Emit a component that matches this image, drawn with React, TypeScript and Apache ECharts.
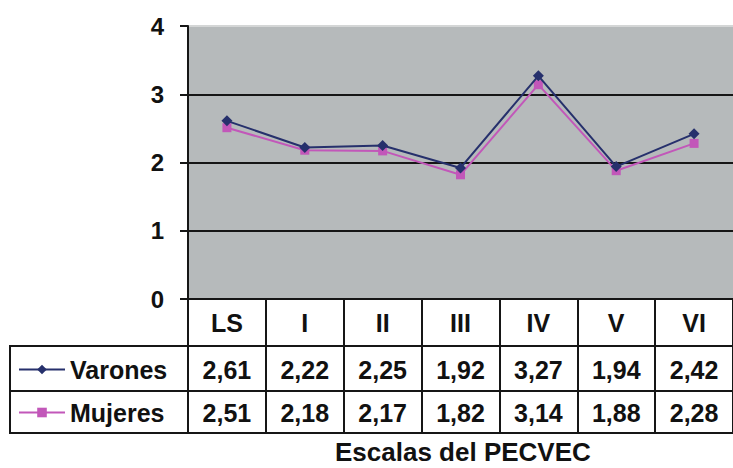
import React, { useEffect, useRef } from "react";
import * as echarts from "echarts";

const categories = ["LS", "I", "II", "III", "IV", "V", "VI"];
const varones = [2.61, 2.22, 2.25, 1.92, 3.27, 1.94, 2.42];
const mujeres = [2.51, 2.18, 2.17, 1.82, 3.14, 1.88, 2.28];
const yTicks = [0, 1, 2, 3, 4];
const axisTitle = "Escalas del PECVEC";

const FONT = "'Liberation Sans', Arial, Helvetica, sans-serif";
const fmt = (v: number) => v.toFixed(2).replace(".", ",");

export default function App() {
  const ref = useRef<HTMLDivElement>(null);
  useEffect(() => {
    if (!ref.current) return;
    const chart = echarts.init(ref.current, null, { renderer: "svg" });
    const gridLeft = 188;
    const gridTop = 26;
    const gridBottomY = 299;
    const row1 = 346;
    const row2 = 391;
    const row3 = 433;
    const tableLeft = 10;
    const lineColor = "#161616";
    const labelStyle = { fontFamily: FONT, fontWeight: "bold" as const, fontSize: 25, color: "#111" };
    chart.setOption({
      animation: false,
      backgroundColor: "#ffffff",
      title: {
        text: axisTitle,
        left: 335,
        top: 439,
        padding: 0,
        textStyle: { fontFamily: FONT, fontWeight: "bold", fontSize: 26, color: "#111" },
      },
      legend: {
        orient: "vertical",
        left: 18,
        top: 357,
        padding: 0,
        itemWidth: 46,
        itemHeight: 12,
        itemGap: 18,
        textStyle: { fontFamily: FONT, fontWeight: "bold", fontSize: 25, color: "#111" },
        data: ["Varones", "Mujeres"],
      },
      grid: {
        left: gridLeft,
        top: gridTop,
        width: 549,
        height: gridBottomY - gridTop,
        show: true,
        backgroundColor: "#b6babb",
        borderWidth: 0,
      },
      yAxis: {
        type: "value",
        min: yTicks[0],
        max: yTicks[yTicks.length - 1],
        interval: 1,
        axisLine: { show: true, lineStyle: { color: lineColor, width: 2 } },
        axisTick: { show: true, length: 8, lineStyle: { color: lineColor, width: 2 } },
        axisLabel: { ...labelStyle, fontSize: 24, margin: 24 },
        splitLine: {
          show: true,
          lineStyle: { color: [lineColor, lineColor, lineColor, lineColor, "#d4d6d6"], width: 2 },
        },
      },
      xAxis: [
        {
          type: "category",
          data: categories,
          position: "bottom",
          boundaryGap: true,
          axisLine: { show: true, lineStyle: { color: lineColor, width: 2 } },
          axisTick: { show: true, interval: 0, length: row3 - gridBottomY, lineStyle: { color: lineColor, width: 2 } },
          axisLabel: { ...labelStyle, margin: 11, interval: 0 },
        },
        {
          type: "category",
          data: varones.map(fmt),
          position: "bottom",
          offset: row1 - gridBottomY,
          axisLine: { show: true, lineStyle: { color: lineColor, width: 2 } },
          axisTick: { show: false },
          axisLabel: { ...labelStyle, margin: 11, interval: 0 },
        },
        {
          type: "category",
          data: mujeres.map(fmt),
          position: "bottom",
          offset: row2 - gridBottomY,
          axisLine: { show: true, lineStyle: { color: lineColor, width: 2 } },
          axisTick: { show: false },
          axisLabel: { ...labelStyle, margin: 9, interval: 0 },
        },
        {
          type: "category",
          data: categories,
          position: "bottom",
          offset: row3 - gridBottomY,
          axisLine: { show: true, lineStyle: { color: lineColor, width: 2 } },
          axisTick: { show: false },
          axisLabel: { show: false },
        },
      ],
      graphic: [
        {
          type: "rect",
          shape: { x: tableLeft, y: row1, width: gridLeft - tableLeft, height: row3 - row1 },
          style: { fill: "none", stroke: lineColor, lineWidth: 2 },
          silent: true,
        },
        {
          type: "line",
          shape: { x1: tableLeft, y1: row2, x2: gridLeft, y2: row2 },
          style: { stroke: lineColor, lineWidth: 2 },
          silent: true,
        },
      ],
      series: [
        {
          name: "Varones",
          type: "line",
          xAxisIndex: 0,
          data: varones,
          symbol: "diamond",
          symbolSize: 11,
          itemStyle: { color: "#26306c" },
          lineStyle: { color: "#26306c", width: 2 },
          z: 3,
        },
        {
          name: "Mujeres",
          type: "line",
          xAxisIndex: 0,
          data: mujeres,
          symbol: "rect",
          symbolSize: 9,
          itemStyle: { color: "#c257b9" },
          lineStyle: { color: "#c257b9", width: 2 },
          z: 2,
        },
      ],
    });
    return () => chart.dispose();
  }, []);
  return (
    <div
      ref={ref}
      style={{ position: "absolute", left: 0, top: 0, width: 733, height: 468 }}
    />
  );
}
